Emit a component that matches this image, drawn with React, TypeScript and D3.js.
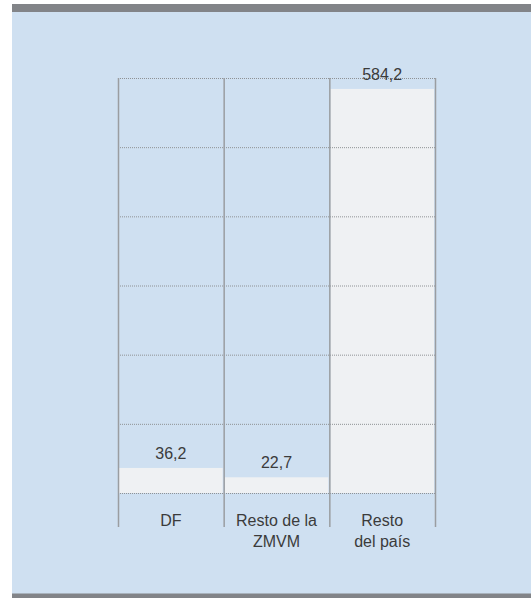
import React from "react";
import * as d3 from "d3";

const categories: string[][] = [["DF"], ["Resto de la", "ZMVM"], ["Resto", "del país"]];
const keys = ["DF", "Resto de la ZMVM", "Resto del país"];
const values = [36.2, 22.7, 584.2];
const valueLabels = ["36,2", "22,7", "584,2"];
const yTicks = [0, 100, 200, 300, 400, 500, 600];

const W = 531;
const H = 598;
const FONT = "'Liberation Sans', Arial, sans-serif";

export default function App() {
  const x = d3.scaleBand<string>().domain(keys).range([118, 435]).padding(0);
  const y = d3.scaleLinear().domain([0, 600]).range([493, 78]);
  const textColor = "#3b3b3b";
  return (
    <div style={{ position: "absolute", left: 0, top: 0 }}>
      <svg width={W} height={H} style={{ display: "block" }}>
        <rect x={12} y={4} width={W - 12} height={H - 4} fill="#cfe0f1" />
        <rect x={12} y={4} width={W - 12} height={8} fill="#828488" />
        <rect x={12} y={593.5} width={W - 12} height={4.5} fill="#828488" />
        {values.map((v, i) => (
          <rect
            key={keys[i]}
            x={(x(keys[i]) as number) + 1}
            y={y(v)}
            width={x.bandwidth() - 2}
            height={y(0) - y(v)}
            fill="#eff1f3"
          />
        ))}
        {yTicks.map((t) => (
          <line
            key={t}
            x1={118}
            x2={435}
            y1={y(t) + 0.5}
            y2={y(t) + 0.5}
            stroke="#8f9295"
            strokeWidth={1}
            strokeDasharray="1,1"
          />
        ))}
        {[...keys.map((k) => x(k) as number), 435].map((xx, i) => (
          <line key={i} x1={xx + 0.5} x2={xx + 0.5} y1={78} y2={527} stroke="#9a9da1" strokeWidth={1.5} />
        ))}
        {values.map((v, i) => (
          <text
            key={keys[i]}
            x={(x(keys[i]) as number) + x.bandwidth() / 2}
            y={y(v) - 9}
            textAnchor="middle"
            fontFamily={FONT}
            fontSize={16}
            fill={textColor}
          >
            {valueLabels[i]}
          </text>
        ))}
        {categories.map((lines, i) => (
          <text
            key={keys[i]}
            x={(x(keys[i]) as number) + x.bandwidth() / 2}
            y={526}
            textAnchor="middle"
            fontFamily={FONT}
            fontSize={16}
            fill={textColor}
          >
            {lines.map((l, j) => (
              <tspan key={j} x={(x(keys[i]) as number) + x.bandwidth() / 2} dy={j === 0 ? 0 : 21}>
                {l}
              </tspan>
            ))}
          </text>
        ))}
      </svg>
    </div>
  );
}
